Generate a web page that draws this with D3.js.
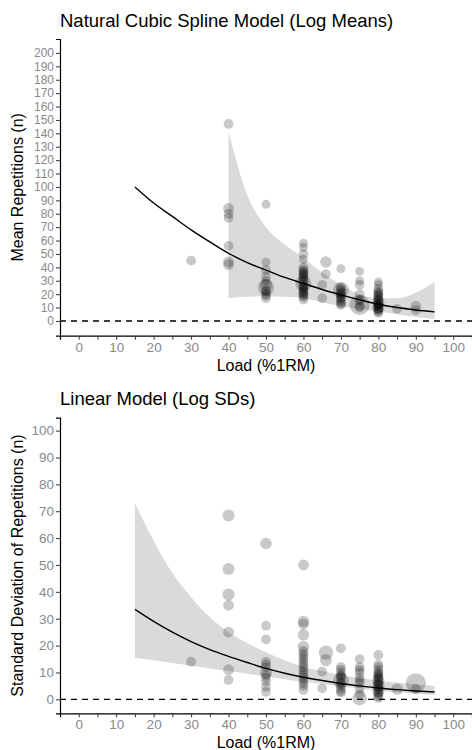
<!DOCTYPE html>
<html>
<head>
<meta charset="utf-8">
<script src="https://cdn.jsdelivr.net/npm/d3@7"></script>
<style>
  body { margin: 0; background: #fff; }
  svg { display: block; font-family: "Liberation Sans", Arial, sans-serif; }
</style>
</head>
<body>
<div class="container"></div>
<script>
// ---- data ----
const loadTicks = d3.range(0, 101, 10);
const loadMinorTicks = d3.range(0, 101, 5);
const meanTicks = d3.range(0, 201, 10);
const sdTicks = d3.range(0, 101, 10);

// fitted curve, mean panel (load, reps)
const meanFitLoad = [15, 20, 25, 30, 35, 40, 45, 50, 55, 60, 65, 70, 75, 80, 85, 90, 95];
const meanFitReps = [100, 88, 78, 68, 59, 50.5, 43.5, 38, 32.5, 28, 23.5, 19.5, 15.8, 12.5, 10, 8.2, 6.8];
// ribbon, mean panel
const meanBandLoad = [40, 45, 50, 55, 60, 65, 70, 75, 80, 85, 90, 95];
const meanBandHi = [141, 94, 70, 57, 47, 36, 27, 20, 17, 17, 21, 29];
const meanBandLo = [17, 18, 18.5, 18, 17, 14, 11, 9, 7, 5, 3, 1.5];

// fitted curve, sd panel
const sdFitLoad = [15, 20, 25, 30, 35, 40, 45, 50, 55, 60, 65, 70, 75, 80, 85, 90, 95];
const sdFitReps = [33.5, 29, 25, 21.5, 18.5, 16, 13.7, 11.5, 9.7, 8.2, 7, 5.9, 5, 4.2, 3.6, 3.1, 2.7];
const sdBandHi = [73, 59, 47, 38, 30.5, 25, 21, 17.5, 14.5, 12, 10.5, 9, 8, 7, 6.2, 5.6, 5];
const sdBandLo = [15.5, 14.5, 13.5, 12.5, 11.5, 10.5, 9.5, 8.5, 7.5, 6.5, 5.7, 4.8, 4, 3.2, 2.6, 2.1, 1.6];

// study points: [load, value, n]
const meanPoints = [
  [30,45,13],
  [40,147,13],[40,84,16],[40,80,13],[40,77,13],[40,56,13],[40,44,16],[40,42,16],
  [50,87,11],[50,44,11],[50,38,13],[50,33,13],[50,30,11],[50,27,20],[50,25,35],[50,23,13],[50,22,13],
  [50,20,13],[50,19,13],[50,17,13],
  [60,58,11],[60,55,11],[60,50,13],[60,46,11],[60,40,13],[60,38,13],[60,37,13],[60,36,13],[60,35,13],[60,34,13],
  [60,33,13],[60,32,13],[60,30,13],[60,29,13],[60,28,35],[60,27,13],[60,26,13],[60,25,13],[60,24,13],[60,23,13],
  [60,22,13],[60,21,13],[60,20,13],[60,19,13],[60,18,13],[60,16,13],
  [65,27,13],[65,17,13],[66,44,18],[66,35,13],
  [70,39,11],[70,25,13],[70,24,13],[70,23,35],[70,22,13],[70,21,13],[70,20,13],[70,19,13],[70,18,13],
  [70,17,13],[70,16,13],[70,14,13],[70,13,13],[70,12,13],
  [75,37,11],[75,30,11],[75,27,13],[75,20,13],[75,16,13],[75,15,13],[75,12,55],[75,11,13],[75,10,13],
  [80,29,11],[80,27,11],[80,24,13],[80,22,13],[80,21,13],[80,20,13],[80,19,13],[80,18,13],[80,17,13],
  [80,16,13],[80,15,13],[80,14,20],[80,13,13],[80,12.5,13],[80,12,13],[80,11.5,13],[80,11,13],[80,10,20],
  [80,9.5,13],[80,9,13],[80,8,13],[80,7,13],[80,6,13],
  [85,9,13],
  [90,11,16],[90,8,13]
];
const sdPoints = [
  [30,14,13],
  [40,68.4,20],[40,48.5,20],[40,39,20],[40,35,16],[40,25,16],[40,11,16],[40,7.2,13],
  [50,58,18],[50,27.4,13],[50,22.3,13],[50,14,13],[50,13,13],[50,12,13],[50,10,20],[50,9,13],[50,8,13],
  [50,6.6,13],[50,4.7,13],[50,2.8,13],
  [60,50,16],[60,29,18],[60,28,16],[60,24,18],[60,19.6,18],[60,18,13],[60,17,13],[60,16,13],[60,15,13],
  [60,14,13],[60,13,13],[60,12,13],[60,11,13],[60,10,13],[60,9,13],[60,8,13],[60,7,13],[60,6,13],
  [60,5,13],[60,3.5,13],
  [65,10.3,13],[65,4.1,13],[66,17.4,28],[66,14.6,20],
  [70,19,13],[70,12,13],[70,11,13],[70,10,13],[70,9,13],[70,8.5,13],[70,8,13],[70,7,35],[70,6.5,13],
  [70,6,13],[70,5,13],[70,4,13],[70,3,13],[70,2.5,13],
  [75,15,13],[75,12,13],[75,11,13],[75,10,13],[75,8,13],[75,7,13],[75,6,13],[75,4,13],[75,2,13],[75,0.4,28],
  [80,16.5,13],[80,13,13],[80,12,13],[80,11,13],[80,10,13],[80,9.5,13],[80,9,13],[80,8.5,13],[80,8,13],
  [80,7.5,13],[80,7,20],[80,6.5,13],[80,6,13],[80,5.5,13],[80,5,20],[80,4.5,13],[80,4,13],[80,3.5,13],
  [80,3,20],[80,2.5,13],[80,2,13],[80,1,13],[80,0.5,13],
  [85,3.8,18],
  [90,6,55],[90,3.8,13]
];

const width = 472, height = 750;
const svg = d3.select('.container').append('svg')
  .attr('width', width)
  .attr('height', height);

// shared x scale and point size
const x = d3.scaleLinear().domain([-5, 105]).range([60, 472]);
const r = d3.scaleSqrt().domain([0, 60]).range([0, 10.5]);

function drawPanel(cfg) {
  const y = d3.scaleLinear().domain(cfg.domain).range([cfg.bottom, cfg.top]);
  const g = svg.append('g');

  // ribbon
  const area = d3.area()
    .x(d => x(d[0]))
    .y0(d => y(d[1]))
    .y1(d => y(d[2]))
    .curve(d3.curveMonotoneX);
  g.append('path')
    .datum(cfg.bandLoad.map((v, i) => [v, cfg.bandLo[i], cfg.bandHi[i]]))
    .attr('d', area)
    .attr('fill', '#d9dadb');

  // points
  g.selectAll('circle.pt')
    .data(cfg.points)
    .join('circle')
    .attr('class', 'pt')
    .attr('cx', d => x(d[0]))
    .attr('cy', d => y(d[1]))
    .attr('r', d => r(d[2]))
    .attr('fill', '#000')
    .attr('fill-opacity', 0.21);

  // dashed zero line
  g.append('line')
    .attr('x1', x.range()[0]).attr('x2', x.range()[1])
    .attr('y1', y(0)).attr('y2', y(0))
    .attr('stroke', '#000')
    .attr('stroke-width', 1.4)
    .attr('stroke-dasharray', '6,5');

  // fitted line
  const line = d3.line()
    .x(d => x(d[0]))
    .y(d => y(d[1]))
    .curve(d3.curveMonotoneX);
  g.append('path')
    .datum(cfg.fitLoad.map((v, i) => [v, cfg.fitReps[i]]))
    .attr('d', line)
    .attr('fill', 'none')
    .attr('stroke', '#000')
    .attr('stroke-width', 1.4);

  // x axis
  const xAxis = g.append('g')
    .attr('transform', `translate(0,${cfg.bottom})`)
    .call(d3.axisBottom(x).tickValues(loadMinorTicks).tickSize(4)
      .tickFormat(d => d % 10 === 0 ? d : ''));
  // y axis
  const yAxis = g.append('g')
    .attr('transform', `translate(${x.range()[0]},0)`)
    .call(d3.axisLeft(y).tickValues(cfg.ticks).tickSize(4));

  [xAxis, yAxis].forEach(ax => {
    ax.select('.domain').attr('stroke', '#000').attr('stroke-width', 1.2);
    ax.selectAll('.tick line').attr('stroke', '#333');
    ax.selectAll('.tick text')
      .attr('fill', '#8a8a8a')
      .style('font-family', '"Liberation Sans", Arial, sans-serif');
  });
  xAxis.selectAll('.tick text').attr('dy', null).attr('y', 16).style('font-size', '13.5px');
  yAxis.selectAll('.tick text').attr('x', -6).style('font-size', cfg.tickSize);

  // titles
  svg.append('text')
    .attr('x', 60).attr('y', cfg.titleY)
    .style('font-size', '18.5px')
    .text(cfg.title);
  svg.append('text')
    .attr('x', (x.range()[0] + x.range()[1]) / 2)
    .attr('y', cfg.bottom + 35)
    .attr('text-anchor', 'middle')
    .style('font-size', '16px')
    .text('Load (%1RM)');
  svg.append('text')
    .attr('transform', `translate(23,${(cfg.top + cfg.bottom) / 2}) rotate(-90)`)
    .attr('text-anchor', 'middle')
    .style('font-size', '16px')
    .text(cfg.yLabel);
}

drawPanel({
  title: 'Natural Cubic Spline Model (Log Means)',
  yLabel: 'Mean Repetitions (n)',
  titleY: 27,
  top: 39, bottom: 335.7,
  domain: [-11, 210.4],
  ticks: meanTicks,
  tickSize: '12px',
  points: meanPoints,
  fitLoad: meanFitLoad, fitReps: meanFitReps,
  bandLoad: meanBandLoad, bandHi: meanBandHi, bandLo: meanBandLo
});

drawPanel({
  title: 'Linear Model (Log SDs)',
  yLabel: 'Standard Deviation of Repetitions (n)',
  titleY: 405,
  top: 417.7, bottom: 713.3,
  domain: [-5.2, 104.8],
  ticks: sdTicks,
  tickSize: '13.5px',
  points: sdPoints,
  fitLoad: sdFitLoad, fitReps: sdFitReps,
  bandLoad: sdFitLoad, bandHi: sdBandHi, bandLo: sdBandLo
});
</script>
</body>
</html>
